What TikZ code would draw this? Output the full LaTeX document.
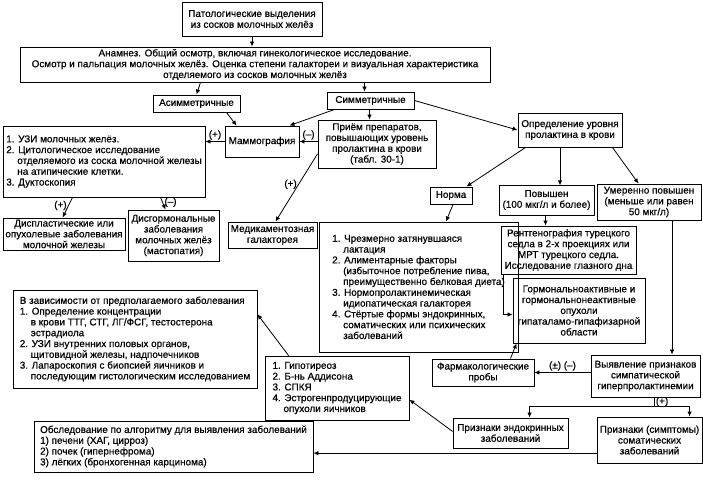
\documentclass[tikz,border=0pt]{standalone}
\usepackage{fontspec}
\setmainfont{Liberation Sans}[UprightFeatures={FakeBold=0.6}]
\usetikzlibrary{arrows.meta,calc}
\newcommand\fs{\fontsize{9.9}{10.8}\selectfont}
\newcommand\ind{\hphantom{1.\ }}
\newcommand\bx[6]{\node[box,minimum width={(#4)-(#2)},minimum height={(#5)-(#3)},#6] (#1) at ({((#2)+(#4))/2},{((#3)+(#5))/2})}
\begin{document}
\begin{tikzpicture}[x=1pt,y=-1pt,
  box/.style={draw,line width=0.9pt,inner xsep=2pt,inner ysep=1pt,align=center,font=\fs},
  arr/.style={line width=0.8pt,-{Latex[length=5pt,width=4.5pt]}},
  lab/.style={font=\fs,inner sep=1.5pt}]
\useasboundingbox[fill=white] (0,0) rectangle (703,487);

\bx{A}{182}{2}{322}{36}{}{Патологические выделения\\из сосков молочных желёз};
\bx{B}{20}{47}{490}{82}{}{Анамнез. Общий осмотр, включая гинекологическое исследование.\\Осмотр и пальпация молочных желёз. Оценка степени галактореи и визуальная характеристика\\отделяемого из сосков молочных желёз};
\bx{C}{153}{95}{240}{112}{}{Асимметричные};
\bx{D}{327}{92}{414}{109}{}{Симметричные};
\bx{E}{225}{126}{299}{157}{}{Маммография};
\bx{F}{318}{120}{436}{168}{}{Приём препаратов,\\повышающих уровень\\пролактина в крови\\(табл. 30-1)};
\bx{G}{518}{113}{622}{147}{}{Определение уровня\\пролактина в крови};
\bx{H}{3}{126}{205}{197}{align=left}{1. УЗИ молочных желёз.\\2. Цитологическое исследование\\\ind отделяемого из соска молочной железы\\\ind на атипические клетки.\\3. Дуктоскопия};
\bx{I}{430}{187}{472}{204}{}{Норма};
\bx{J}{499}{185}{594}{215}{}{Повышен\\(100 мкг/л и более)};
\bx{K}{597}{184}{701}{220}{}{Умеренно повышен\\(меньше или равен\\50 мкг/л)};
\bx{L}{3}{218}{125}{250}{}{Диспластические или\\опухолевые заболевания\\молочной железы};
\bx{M}{128}{210}{219}{261}{}{Дисгормональные\\заболевания\\молочных желёз\\(мастопатия)};
\bx{N}{228}{222}{317}{248}{}{Медикаментозная\\галакторея};
\bx{O}{319}{222}{518}{352}{align=left}{1. Чрезмерно затянувшаяся\\\ind лактация\\2. Алиментарные факторы\\\ind (избыточное потребление пива,\\\ind преимущественно белковая диета)\\3. Нормопролактинемическая\\\ind идиопатическая галакторея\\4. Стёртые формы эндокринных,\\\ind соматических или психических\\\ind заболеваний};
\bx{P}{501}{226}{636}{274}{}{Рентгенография турецкого\\седла в 2-х проекциях или\\МРТ турецкого седла.\\Исследование глазного дна};
\bx{Q}{513}{278}{645}{343}{}{Гормональноактивные и\\гормональнонеактивные\\опухоли\\гипаталамо-гипафизарной\\области};
\bx{R}{13}{290}{257}{388}{align=left}{В зависимости от предполагаемого заболевания\\1. Определение концентрации\\\ind в крови ТТГ, СТГ, ЛГ/ФСГ, тестостерона\\\ind эстрадиола\\2. УЗИ внутренних половых органов,\\\ind щитовидной железы, надпочечников\\3. Лапароскопия с биопсией яичников и\\\ind последующим гистологическим исследованием};
\bx{S}{265}{356}{409}{420}{align=left}{1. Гипотиреоз\\2. Б-нь Аддисона\\3. СПКЯ\\4. Эстрогенпродуцирующие\\\ind опухоли яичников};
\bx{T}{432}{359}{534}{386}{}{Фармакологические\\пробы};
\bx{U}{591}{355}{700}{397}{}{Выявление признаков\\симпатической\\гиперпролактинемии};
\bx{V}{453}{418}{568}{448}{}{Признаки эндокринных\\заболеваний};
\bx{W}{597}{417}{702}{463}{}{Признаки (симптомы)\\соматических\\заболеваний};
\bx{X}{34}{421}{313}{472}{align=left}{Обследование по алгоритму для выявления заболеваний\\1) печени (ХАГ, цирроз)\\2) почек (гипернефрома)\\3) лёгких (бронхогенная карцинома)};

\draw[arr] (A.south) -- (A.south |- B.north);
\draw[arr] ($(B.south -| C.north)+(4,0)$) -- (C.north);
\draw[arr] ($(B.south -| D.north)+(-6,0)$) -- ($(D.north)+(-6,0)$);
\draw[arr] ($(C.south east)+(-14,0)$) -- ($(E.north west)+(12,0)$);
\draw[arr] ($(D.south west)+(8,0)$) -- ($(E.north east)+(-10,0)$);
\draw[arr] ($(D.south)+(-1,0)$) -- ($(D.south |- F.north)+(-1,0)$);
\draw[arr] (D.east) -- (G.west);
\draw[arr] (F.west |- E.east) -- node[lab,above]{(–)} (E.east);
\draw[arr] ($(F.north west)!0.7!(F.south west)$) -- node[lab,left,pos=0.45]{(+)} ($(N.north)+(3,0)$);
\draw[arr] (E.west) -- node[lab,above]{(+)} (E.west -| H.east);
\draw[arr] ($(H.south west)+(70,0)$) -- node[lab,left,pos=0.4]{(+)} ($(L.north west)+(60,0)$);
\draw[arr] ($(H.south west)+(158,0)$) -- node[lab,right,pos=0.4]{(–)} ($(M.north west)+(38,0)$);
\draw[arr] ($(G.south west)+(8,0)$) -- ($(I.north east)+(-6,0)$);
\draw[arr] (G.south) ++(-10,0) -- ++(0,38);
\draw[arr] ($(G.south east)+(-10,0)$) -- ($(K.north west)!0.4!(K.north east)$);
\draw[arr] ($(I.south)+(2,0)$) -- ($(I.south |- O.north)+(-5,0)$);
\coordinate (j2) at ($(J.south)+(-1,0)$);
\draw[arr] (j2) -- (j2 |- P.north);
\draw[arr] ($(P.south west)+(3,0)$) |- ($(Q.west)+(0,4)$);
\coordinate (k1) at (672,220);
\draw[arr] (k1) -- (k1 |- U.north);
\draw[arr] ($(T.north east)+(-24,0)$) -- ($(Q.south west)+(4,0)$);
\draw[arr] (T.east -| U.west) -- node[lab,above]{(±) (–)} (T.east);
\coordinate (j1) at (654,406);
\draw[line width=0.8pt] (U.south -| j1) -- node[lab,right]{(+)} (j1);
\draw[arr] (j1) -| ($(V.north west)+(77,0)$);
\draw[arr] (j1) -| ($(W.north west)+(93,0)$);
\draw[arr] ($(V.north west)!0.45!(V.south west)$) -- ($(S.north east)!0.68!(S.south east)$);
\draw[arr] ($(S.north west)+(24,0)$) -- ($(R.north east)!0.25!(R.south east)$);
\coordinate (w1) at ($(W.north west)!0.78!(W.south west)$);
\draw[arr] (w1) -- (w1 -| X.east);
\end{tikzpicture}
\end{document}
